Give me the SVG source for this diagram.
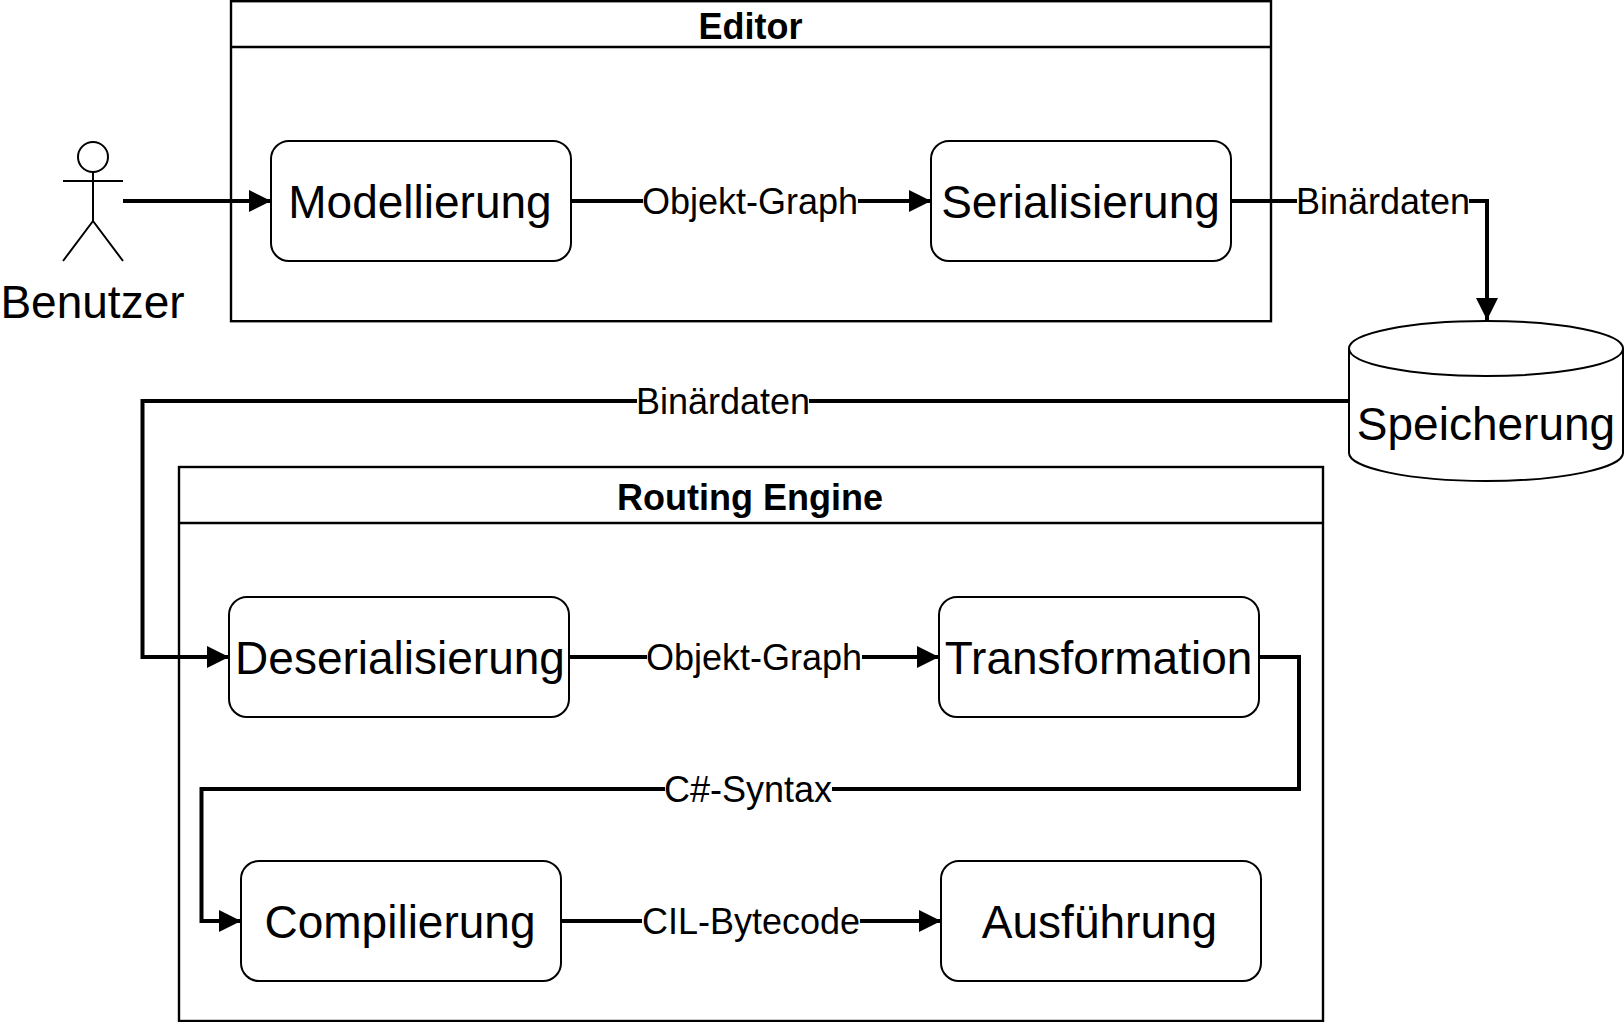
<svg xmlns="http://www.w3.org/2000/svg" width="1624" height="1022" viewBox="0 0 1624 1022">
<defs>
<style>
text{font-family:"Liberation Sans",Arial,sans-serif;fill:#000;text-anchor:middle}
.node{font-size:46px}
.label{font-size:36px}
.title{font-size:36px;font-weight:bold}
.box{fill:#fff;stroke:#000;stroke-width:2}
.lane{fill:#fff;stroke:#000;stroke-width:2.4}
.edge{fill:none;stroke:#000;stroke-width:4}
.lb{fill:#fff}
</style>
<marker id="arrow" markerUnits="userSpaceOnUse" markerWidth="24" markerHeight="24" refX="22" refY="11" orient="auto"><path d="M0 0L22 11L0 22Z" fill="#000"/></marker>
</defs>
<rect width="1624" height="1022" fill="#fff"/>
<g id="editor"><rect class="lane" x="231" y="1.2" width="1040" height="320"/><line class="lane" x1="231" y1="47" x2="1271" y2="47"/><text class="title" x="750.500" y="39">Editor</text></g>
<g id="routing"><rect class="lane" x="179" y="467" width="1144" height="554"/><line class="lane" x1="179" y1="523" x2="1323" y2="523"/><text class="title" x="750" y="510">Routing Engine</text></g>
<g id="benutzer" fill="none" stroke="#000" stroke-width="2"><ellipse cx="93" cy="157" rx="15" ry="15"/><path d="M93 172V221M63 181H123M93 221L63 261M93 221L123 261"/><text class="node" x="92.500" y="318" stroke="none">Benutzer</text></g>
<g id="modellierung"><rect class="box" x="271" y="141" width="300" height="120" rx="18"/><text class="node" x="420" y="218">Modellierung</text></g>
<g id="serialisierung"><rect class="box" x="931" y="141" width="300" height="120" rx="18"/><text class="node" x="1080.500" y="218">Serialisierung</text></g>
<g id="speicherung"><path class="box" d="M1349 348.500C1349 333 1410 321 1486 321S1623 333 1623 348.500V453C1623 468 1562 481 1486 481S1349 468 1349 453Z"/><path class="box" style="fill:none" d="M1349 348.500C1349 364 1410 376 1486 376S1623 364 1623 348.500"/><text class="node" x="1486" y="440">Speicherung</text></g>
<g id="deserialisierung"><rect class="box" x="229" y="597" width="340" height="120" rx="18"/><text class="node" x="400" y="674">Deserialisierung</text></g>
<g id="transformation"><rect class="box" x="939" y="597" width="320" height="120" rx="18"/><text class="node" x="1098.500" y="674">Transformation</text></g>
<g id="compilierung"><rect class="box" x="241" y="861" width="320" height="120" rx="18"/><text class="node" x="400" y="938">Compilierung</text></g>
<g id="ausfuehrung"><rect class="box" x="941" y="861" width="320" height="120" rx="18"/><text class="node" x="1099.500" y="938">Ausführung</text></g>
<g id="connectors">
<path class="edge" marker-end="url(#arrow)" d="M123 201H271"/>
<path class="edge" marker-end="url(#arrow)" d="M571 201H931"/>
<path class="edge" marker-end="url(#arrow)" d="M1231 201H1487V320"/>
<path class="edge" marker-end="url(#arrow)" d="M1349 401H142.500V657H229"/>
<path class="edge" marker-end="url(#arrow)" d="M569 657H939"/>
<path class="edge" marker-end="url(#arrow)" d="M1259 657H1299V789H201.500V921H241"/>
<path class="edge" marker-end="url(#arrow)" d="M561 921H941"/>
<g id="edge-labels">
<rect class="lb" x="643" y="181" width="215" height="40"/><text class="label" x="750" y="214">Objekt-Graph</text>
<rect class="lb" x="1297" y="181" width="172" height="40"/><text class="label" x="1383" y="214">Binärdaten</text>
<rect class="lb" x="637" y="381" width="172" height="40"/><text class="label" x="723" y="414">Binärdaten</text>
<rect class="lb" x="647" y="637" width="215" height="40"/><text class="label" x="754" y="670">Objekt-Graph</text>
<rect class="lb" x="665" y="769" width="167" height="40"/><text class="label" x="748" y="802">C#-Syntax</text>
<rect class="lb" x="642" y="901" width="218" height="40"/><text class="label" x="751" y="934">CIL-Bytecode</text>
</g>
</g>
</svg>
